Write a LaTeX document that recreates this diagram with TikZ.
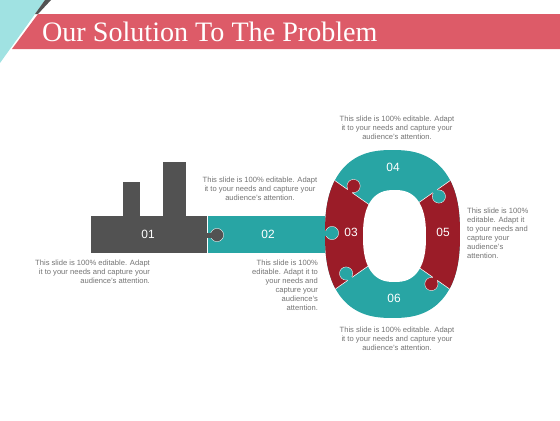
\documentclass[tikz,border=0pt]{standalone}
\usepackage{fontspec}
\setmainfont{Liberation Sans}
\newfontfamily\titlefont{Liberation Serif}
\definecolor{slidegrey}{RGB}{82,82,82}
\definecolor{slideteal}{RGB}{40,165,164}
\definecolor{slidered}{RGB}{155,28,40}
\definecolor{bannerred}{RGB}{221,91,104}
\definecolor{cornercyan}{RGB}{160,226,226}
\definecolor{notegrey}{RGB}{115,115,115}

\begin{document}
\begin{tikzpicture}[x=0.05cm, y=-0.05cm,
numlabel/.style={text=white, font=\fontsize{17}{17}\selectfont, inner sep=0},
note/.style={text=notegrey, font=\fontsize{10.8}{12.8}\selectfont, inner sep=0},
knob/.style={draw=white, line width=0.5pt},
]
\useasboundingbox (0,0) rectangle (560,420);
%Header
\fill[cornercyan] (0,0) -- (45,0) -- (0,63) -- cycle;
\fill[slidegrey] (45,0) -- (51,0) -- (38,14) -- (35,14) -- cycle;
\fill[bannerred] (38,14) -- (560,14) -- (560,49) -- (12,49) -- cycle;
\node[anchor=base west, text=white, font=\titlefont\fontsize{40}{40}\selectfont, inner sep=0] at (42,41.5) (title) {Our Solution To The Problem};
%Pieces
\fill[slidegrey] (91,216) rectangle (207,253);
\fill[slidegrey] (123,182) rectangle (140,216);
\fill[slidegrey] (163,162) rectangle (186,216);
\fill[slideteal] (207,216) rectangle (325,253);
\draw[white, line width=0.4pt] (207,216) -- (207,253);
%Ring
\coordinate (ctop) at (392.5,221);
\coordinate (cbot) at (392.5,249);
\coordinate (tlend) at (269.65,134.9);
\coordinate (trend) at (515.35,134.9);
\coordinate (blend) at (269.65,335.1);
\coordinate (brend) at (515.35,335.1);
\begin{scope}
\clip plot[domain=1:356, samples=72, smooth cycle] ({392.5+67.5*cos(\x)/abs(cos(\x))^0.2}, {234+84*sin(\x)/abs(sin(\x))^0.2});
\fill[slideteal] (300,140) rectangle (480,330);
\fill[slidered] (ctop) -- (tlend) -- (blend) -- (cbot) -- cycle;
\fill[slidered] (ctop) -- (trend) -- (brend) -- (cbot) -- cycle;
\draw[white, line width=0.8pt] (ctop) -- (tlend) (ctop) -- (trend) (cbot) -- (blend) (cbot) -- (brend);
\end{scope}
%Knobs
\foreach \kx/\ky/\nx/\ny/\kcol in {353.6/186.0/348.75/192.81/slidered, 438.9/196.5/433.95/189.53/slideteal, 346.1/273.5/351.05/280.47/slideteal, 431.4/284.0/436.25/277.19/slidered, 217/235/204/235/slidegrey, 332/233/321/233/slideteal}{
  \fill[\kcol, knob] (\kx,\ky) circle[radius=0.33cm];
  \draw[\kcol, line width=0.25cm] (\nx,\ny) -- (\kx,\ky);
}
\fill[white] plot[domain=1:356, samples=72, smooth cycle] ({394.5+31.5*cos(\x)/abs(cos(\x))^0.2}, {236+46*sin(\x)/abs(sin(\x))^0.2});
%Labels
\node[numlabel] at (148,234) (lab01) {01};
\node[numlabel] at (268,234) (lab02) {02};
\node[numlabel] at (351,232) (lab03) {03};
\node[numlabel] at (393,167) (lab04) {04};
\node[numlabel] at (443,232) (lab05) {05};
\node[numlabel] at (394,298) (lab06) {06};
%Notes
\node[note, align=right, anchor=east] at (150,272) (note01) {This slide is 100\% editable. Adapt\\it to your needs and capture your\\audience's attention.};
\node[note, align=center] at (260,189) (note02a) {This slide is 100\% editable. Adapt\\it to your needs and capture your\\audience's attention.};
\node[note, align=right, anchor=east] at (318,285) (note02b) {This slide is 100\%\\editable. Adapt it to\\your needs and\\capture your\\audience's\\attention.};
\node[note, align=center] at (397,128) (note04) {This slide is 100\% editable. Adapt\\it to your needs and capture your\\audience's attention.};
\node[note, align=left, anchor=west] at (467,233) (note05) {This slide is 100\%\\editable. Adapt it\\to your needs and\\capture your\\audience's\\attention.};
\node[note, align=center] at (397,339) (note06) {This slide is 100\% editable. Adapt\\it to your needs and capture your\\audience's attention.};
\end{tikzpicture}
\end{document}
